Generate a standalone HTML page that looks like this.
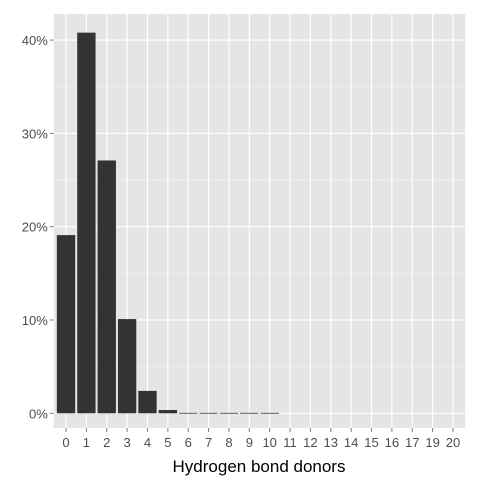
<!DOCTYPE html>
<html><head><meta charset="utf-8"><style>
body{margin:0;background:#fff}
svg text{font-family:"Liberation Sans",sans-serif}
</style></head><body>
<svg id="chart" width="480" height="480">
<rect x="53.8" y="14" width="411.4" height="414" fill="#e5e5e5"/>
<g id="grid"></g><g id="bars"></g><g id="axes"></g>
<text x="259" y="472" text-anchor="middle" font-size="17" fill="#000">Hydrogen bond donors</text>
</svg>
<script>
const categories=["0","1","2","3","4","5","6","7","8","9","10","11","12","13","14","15","16","17","19","20"];
const values=[19.1,40.8,27.1,10.1,2.4,0.35,0.05,0.05,0.05,0.05,0.05,0,0,0,0,0,0,0,0,0];
const yTicks=[0,10,20,30,40];
const yMinor=[5,15,25,35,45];
const NS="http://www.w3.org/2000/svg";
const pLeft=53.8,pRight=465.2,pTop=14,pBottom=428;
const step=(pRight-pLeft)/(categories.length+0.2);
const xs=i=>pLeft+step*(0.6+i);
const ys=v=>413.3-v*9.33;
function mk(t,a,p){const e=document.createElementNS(NS,t);for(const k in a)e.setAttribute(k,a[k]);p.appendChild(e);return e;}
const gGrid=document.getElementById('grid'),gBars=document.getElementById('bars'),gAxes=document.getElementById('axes');
yMinor.forEach(v=>{const y=ys(v);if(y<pTop)return;const l=mk('line',{x1:pLeft,x2:pRight,y1:y,y2:y,stroke:'#f2f2f2','stroke-width':0.8},gGrid);

});
yTicks.forEach(v=>{const y=ys(v);const l=mk('line',{x1:pLeft,x2:pRight,y1:y,y2:y,stroke:'#fff','stroke-width':1.2},gGrid);


mk('line',{x1:pLeft-4,x2:pLeft,y1:y,y2:y,stroke:'#7f7f7f'},gAxes);
const t=mk('text',{x:pLeft-6,y:y+5,'text-anchor':'end','font-size':13,fill:'#4d4d4d'},gAxes);t.textContent=v+'%';

});
categories.forEach((c,i)=>{const x=xs(i);const l=mk('line',{x1:x,x2:x,y1:pTop,y2:pBottom,stroke:'#fff','stroke-width':1.2},gGrid);


mk('line',{x1:x,x2:x,y1:pBottom,y2:pBottom+4,stroke:'#7f7f7f'},gAxes);
const t=mk('text',{x:x,y:pBottom+19,'text-anchor':'middle','font-size':13,fill:'#4d4d4d'},gAxes);t.textContent=c;


const v=values[i];if(v>0){const h=ys(0)-ys(v);const b=mk('rect',{x:x-step*0.45,y:ys(v),width:step*0.9,height:Math.max(h,0.8),fill:'#333'},gBars);

}});
</script>
</body></html>
